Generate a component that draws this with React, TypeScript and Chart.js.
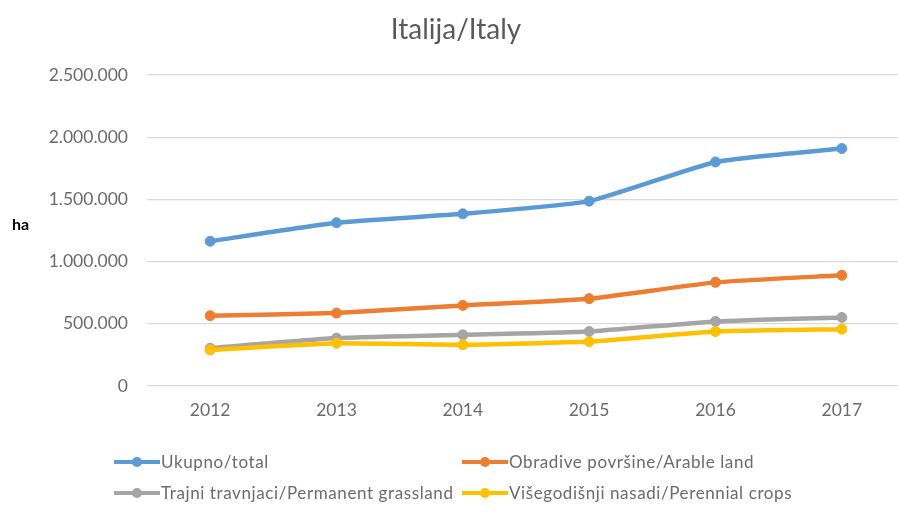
import React, { useEffect, useRef } from "react";
import { Chart, registerables } from "chart.js";

Chart.register(...registerables);

const years = ["2012", "2013", "2014", "2015", "2016", "2017"];
const totalHa = [1164000, 1312000, 1384000, 1486000, 1801000, 1909000];
const arableHa = [565000, 586000, 648000, 702000, 833000, 890000];
const grasslandHa = [304000, 385000, 411000, 438000, 519000, 551000];
const perennialHa = [290000, 344000, 331000, 357000, 438000, 457000];
const seriesNames = [
  "Ukupno/total",
  "Obradive površine/Arable land",
  "Trajni travnjaci/Permanent grassland",
  "Višegodišnji nasadi/Perennial crops",
];
const seriesColors = ["#5B9BD5", "#ED7D31", "#A5A5A5", "#FFC000"];
const titleText = "Italija/Italy";
const unitText = "ha";

const FONT = "Lato, 'Open Sans', sans-serif";
const CANVAS_W = 912;
const CANVAS_H = 514;

function fmt(v: number): string {
  return Math.round(v).toString().replace(/\B(?=(\d{3})+(?!\d))/g, ".");
}

function LegendItem({ color, label, left, top }: { color: string; label: string; left: number; top: number }) {
  return (
    <div style={{ position: "absolute", left, top: top - 10, height: 20, display: "flex", alignItems: "center", whiteSpace: "nowrap" }}>
      <svg width={47} height={20} style={{ display: "block" }}>
        <line x1={0} y1={10} x2={46} y2={10} stroke={color} strokeWidth={4} />
        <circle cx={23} cy={10} r={5} fill={color} />
      </svg>
      <span style={{ fontFamily: FONT, fontSize: 17, letterSpacing: "0.6px", color: "#6b6b6b", lineHeight: "20px" }}>{label}</span>
    </div>
  );
}

export default function App() {
  const ref = useRef<HTMLCanvasElement | null>(null);

  useEffect(() => {
    if (!ref.current) return;
    const data = [totalHa, arableHa, grasslandHa, perennialHa];
    const chart = new Chart(ref.current, {
      type: "line",
      data: {
        labels: years,
        datasets: data.map((d, i) => ({
          label: seriesNames[i],
          data: d,
          borderColor: seriesColors[i],
          backgroundColor: seriesColors[i],
          pointBackgroundColor: seriesColors[i],
          pointBorderColor: seriesColors[i],
          borderWidth: 4.5,
          pointRadius: 5,
          pointBorderWidth: 1,
          tension: 0.15,
          order: 4 - i,
        })),
      },
      options: {
        responsive: false,
        animation: false,
        layout: { padding: { top: 75, right: CANVAS_W - 905, left: 0, bottom: 0 } },
        plugins: {
          legend: { display: false },
          title: { display: false },
          tooltip: { enabled: false },
        },
        scales: {
          x: {
            type: "category",
            offset: true,
            grid: { display: false, drawTicks: false },
            border: { display: false },
            ticks: {
              color: "#6b6b6b",
              font: { family: FONT, size: 17.5 },
              padding: 14,
              maxRotation: 0,
            },
            afterFit: (s: any) => {
              s.height = 128;
            },
          },
          y: {
            min: 0,
            max: 2500000,
            grid: { color: "#d9d9d9", lineWidth: 1.3, drawTicks: false },
            border: { display: false },
            ticks: {
              stepSize: 500000,
              color: "#6b6b6b",
              font: { family: FONT, size: 17.5 },
              padding: 19,
              callback: (v: any) => fmt(Number(v)),
            },
            afterFit: (s: any) => {
              s.width = 147;
            },
          },
        },
      },
    });
    return () => chart.destroy();
  }, []);

  return (
    <div style={{ position: "absolute", left: 0, top: 0, width: 898, height: 514, overflow: "hidden", background: "#fff" }}>
      <canvas ref={ref} width={CANVAS_W} height={CANVAS_H} style={{ position: "absolute", left: 0, top: 0, width: CANVAS_W, height: CANVAS_H }} />
      <div
        style={{
          position: "absolute",
          left: 0,
          top: 14,
          width: CANVAS_W,
          textAlign: "center",
          fontFamily: FONT,
          fontSize: 28,
          lineHeight: "28px",
          color: "#595959",
        }}
      >
        {titleText}
      </div>
      <div
        style={{
          position: "absolute",
          left: 12,
          top: 214,
          fontFamily: FONT,
          fontWeight: "bold",
          fontSize: 16,
          lineHeight: "20px",
          color: "#000",
        }}
      >
        {unitText}
      </div>
      <LegendItem color={seriesColors[0]} label={seriesNames[0]} left={114} top={462} />
      <LegendItem color={seriesColors[1]} label={seriesNames[1]} left={462} top={462} />
      <LegendItem color={seriesColors[2]} label={seriesNames[2]} left={114} top={493} />
      <LegendItem color={seriesColors[3]} label={seriesNames[3]} left={462} top={493} />
    </div>
  );
}
